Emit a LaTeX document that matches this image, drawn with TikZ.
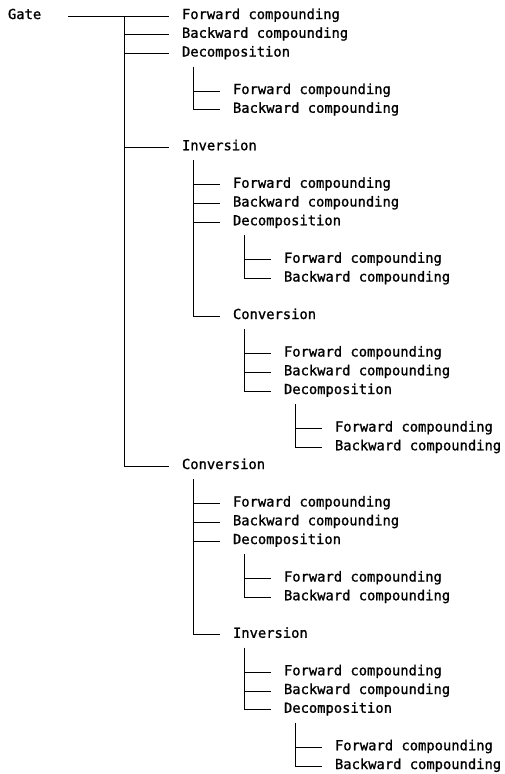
\documentclass[tikz,border=0pt]{standalone}
\usepackage{fontspec}
\usepackage{tikz}
\newfontfamily\treefont[FakeBold=1.2]{DejaVu Sans Mono}
\tikzset{
  item/.style={anchor=west,inner xsep=0pt,inner ysep=0pt,outer xsep=13pt,outer ysep=0pt,
    text height=9pt,text depth=3pt,font=\treefont\fontsize{13.8}{16}\selectfont},
  branch/.style={draw=black,line width=0.9pt}
}

\begin{document}
\begin{tikzpicture}[x=1pt,y=1pt]
  \useasboundingbox (0,0) rectangle (505,-774);

  % first level
  \node[item] (G) at (-5,-16) {Gate};
  \node[item] (F1) at (169,-16) {Forward compounding};
  \node[item] (B1) at (169,-34.75) {Backward compounding};
  \node[item] (D1) at (169,-53.5) {Decomposition};
  \node[item] (I1) at (169,-147.25) {Inversion};
  \node[item] (C1) at (169,-466) {Conversion};

  % under D1
  \node[item] (F2) at (220,-91) {Forward compounding};
  \node[item] (B2) at (220,-109.75) {Backward compounding};

  % under I1
  \node[item] (F3) at (220,-184.75) {Forward compounding};
  \node[item] (B3) at (220,-203.5) {Backward compounding};
  \node[item] (D3) at (220,-222.25) {Decomposition};
  \node[item] (C3) at (220,-316) {Conversion};
  \node[item] (F4) at (271,-259.75) {Forward compounding};
  \node[item] (B4) at (271,-278.5) {Backward compounding};
  \node[item] (F5) at (271,-353.5) {Forward compounding};
  \node[item] (B5) at (271,-372.25) {Backward compounding};
  \node[item] (D5) at (271,-391) {Decomposition};
  \node[item] (F6) at (322,-428.5) {Forward compounding};
  \node[item] (B6) at (322,-447.25) {Backward compounding};

  % under C1
  \node[item] (F7) at (220,-503.5) {Forward compounding};
  \node[item] (B7) at (220,-522.25) {Backward compounding};
  \node[item] (D7) at (220,-541) {Decomposition};
  \node[item] (I7) at (220,-634.75) {Inversion};
  \node[item] (F8) at (271,-578.5) {Forward compounding};
  \node[item] (B8) at (271,-597.25) {Backward compounding};
  \node[item] (F9) at (271,-672.25) {Forward compounding};
  \node[item] (B9) at (271,-691) {Backward compounding};
  \node[item] (D9) at (271,-709.75) {Decomposition};
  \node[item] (F10) at (322,-747.25) {Forward compounding};
  \node[item] (B10) at (322,-766) {Backward compounding};

  % joints
  \coordinate (root) at (124,-16);
  \coordinate (d1) at ([shift={(24.5pt,-13pt)}]D1.west);
  \coordinate (i1) at ([shift={(24.5pt,-13pt)}]I1.west);
  \coordinate (d3) at ([shift={(24.5pt,-13pt)}]D3.west);
  \coordinate (c3) at ([shift={(24.5pt,-13pt)}]C3.west);
  \coordinate (d5) at ([shift={(24.5pt,-13pt)}]D5.west);
  \coordinate (c1) at ([shift={(24.5pt,-13pt)}]C1.west);
  \coordinate (d7) at ([shift={(24.5pt,-13pt)}]D7.west);
  \coordinate (i7) at ([shift={(24.5pt,-13pt)}]I7.west);
  \coordinate (d9) at ([shift={(24.5pt,-13pt)}]D9.west);

  \draw[branch] ([xshift=14pt]G.east) -- (F1.west);
  \foreach \n in {B1,D1,I1,C1} \draw[branch] (root) |- (\n.west);
  \foreach \n in {F2,B2} \draw[branch] (d1) |- (\n.west);
  \foreach \n in {F3,B3,D3,C3} \draw[branch] (i1) |- (\n.west);
  \foreach \n in {F4,B4} \draw[branch] (d3) |- (\n.west);
  \foreach \n in {F5,B5,D5} \draw[branch] (c3) |- (\n.west);
  \foreach \n in {F6,B6} \draw[branch] (d5) |- (\n.west);
  \foreach \n in {F7,B7,D7,I7} \draw[branch] (c1) |- (\n.west);
  \foreach \n in {F8,B8} \draw[branch] (d7) |- (\n.west);
  \foreach \n in {F9,B9,D9} \draw[branch] (i7) |- (\n.west);
  \foreach \n in {F10,B10} \draw[branch] (d9) |- (\n.west);
\end{tikzpicture}
\end{document}
